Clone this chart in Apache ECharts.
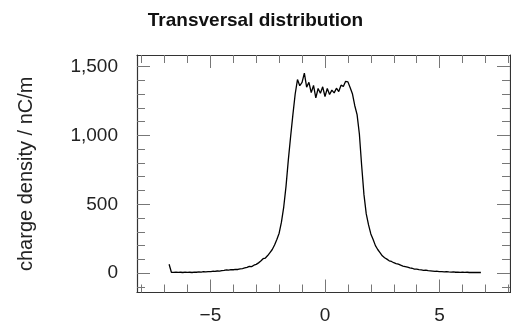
<!DOCTYPE html>
<html>
<head>
<meta charset="utf-8">
<script src="https://cdn.jsdelivr.net/npm/echarts@6/dist/echarts.min.js"></script>
<style>html,body{margin:0;padding:0;background:#fff}#c{width:511px;height:328px}</style>
</head>
<body>
<div id="c"></div>
<script>
var title = 'Transversal distribution';
var yName = 'charge density / nC/m';
var xs = [-6.8,-6.7,-6.6,-6.5,-6.4,-6.3,-6.2,-6.1,-6.0,-5.9,-5.8,-5.7,-5.6,-5.5,-5.4,-5.3,-5.2,-5.1,-5.0,-4.9,-4.8,-4.7,-4.6,-4.5,-4.4,-4.3,-4.2,-4.1,-4.0,-3.9,-3.8,-3.7,-3.6,-3.5,-3.4,-3.3,-3.2,-3.1,-3.0,-2.9,-2.8,-2.7,-2.6,-2.5,-2.4,-2.3,-2.2,-2.1,-2.0,-1.9,-1.8,-1.7,-1.6,-1.5,-1.4,-1.3,-1.2,-1.1,-1.0,-0.9,-0.8,-0.7,-0.6,-0.5,-0.4,-0.3,-0.2,-0.1,0.0,0.1,0.2,0.3,0.4,0.5,0.6,0.7,0.8,0.9,1.0,1.1,1.2,1.3,1.4,1.5,1.6,1.7,1.8,1.9,2.0,2.1,2.2,2.3,2.4,2.5,2.6,2.7,2.8,2.9,3.0,3.1,3.2,3.3,3.4,3.5,3.6,3.7,3.8,3.9,4.0,4.1,4.2,4.3,4.4,4.5,4.6,4.7,4.8,4.9,5.0,5.1,5.2,5.3,5.4,5.5,5.6,5.7,5.8,5.9,6.0,6.1,6.2,6.3,6.4,6.5,6.6,6.7,6.8];
var ys = [65,7,6,8,6,7,5,8,6,7,5,8,7,9,8,11,10,12,11,14,13,16,15,19,20,24,22,26,25,28,27,31,34,38,42,50,48,58,64,75,88,105,110,128,150,172,205,245,290,370,480,630,820,990,1150,1300,1405,1360,1385,1452,1350,1385,1310,1362,1272,1340,1305,1352,1282,1340,1296,1328,1308,1342,1318,1364,1355,1392,1388,1345,1300,1215,1150,1010,780,570,430,350,285,245,200,172,150,126,112,102,90,85,76,70,66,58,52,48,44,38,36,30,29,26,24,21,22,18,17,15,13,14,12,11,10,11,9,8,9,7,8,6,7,6,7,5,6,5,6,5,5];
var xMajor = [-5, 0, 5];
var xMinor = [-8,-7,-6,-5,-4,-3,-2,-1,0,1,2,3,4,5,6,7,8];
var yMajor = [0, 500, 1000, 1500];
var yMinor = [-100,0,100,200,300,400,500,600,700,800,900,1000,1100,1200,1300,1400,1500];

var data = xs.map(function(x, i){ return [x, ys[i]]; });
var XMIN = -8.2, XMAX = 8.07, YMIN = -140, YMAX = 1583;
var tickColor = '#777';
var frameColor = '#333';
var labelStyle = {fontFamily: 'Liberation Sans', fontSize: 19, color: '#222'};

function xAx(pos, vals, len, labels, line) {
  return {
    type: 'value', position: pos, min: XMIN, max: XMAX,
    axisLine: {show: !!line, onZero: false, lineStyle: {color: frameColor, width: 1.2}},
    splitLine: {show: false},
    axisTick: {show: true, inside: true, length: len, customValues: vals, lineStyle: {color: tickColor, width: 1}},
    axisLabel: labels ? Object.assign({show: true, margin: 14, customValues: vals,
      formatter: function(v){ return String(v).replace('-', '\u2212'); }}, labelStyle) : {show: false}
  };
}
function yAx(pos, vals, len, labels, line) {
  return {
    type: 'value', position: pos, min: YMIN, max: YMAX,
    axisLine: {show: !!line, onZero: false, lineStyle: {color: frameColor, width: 1.2}},
    splitLine: {show: false},
    axisTick: {show: true, inside: true, length: len, customValues: vals, lineStyle: {color: tickColor, width: 1}},
    axisLabel: labels ? Object.assign({show: true, margin: 19, customValues: vals,
      formatter: function(v){ return String(v).replace(/\B(?=(\d{3})+(?!\d))/g, ','); }}, labelStyle) : {show: false}
  };
}

var yMain = yAx('left', yMajor, 13, true, true);
yMain.name = yName;
yMain.nameLocation = 'middle';
yMain.nameGap = 101;
yMain.nameTextStyle = {fontFamily: 'Liberation Sans', fontSize: 20, color: '#222'};

var chart = echarts.init(document.getElementById('c'), null, {renderer: 'canvas'});
chart.setOption({
  animation: false,
  backgroundColor: '#fff',
  title: {text: title, left: 'center', top: 6,
    textStyle: {fontFamily: 'Liberation Sans', fontWeight: 'bold', fontSize: 19, color: '#111'}},
  grid: {left: 137, top: 55, width: 373, height: 237.5},
  xAxis: [xAx('bottom', xMajor, 13, true, true), xAx('bottom', xMinor, 8, false), xAx('top', xMajor, 13, false, true), xAx('top', xMinor, 8, false)],
  yAxis: [yMain, yAx('left', yMinor, 8, false), yAx('right', yMajor, 13, false, true), yAx('right', yMinor, 8, false)],
  series: [{type: 'line', data: data, xAxisIndex: 0, yAxisIndex: 0, showSymbol: false, symbol: 'none',
    lineStyle: {color: '#000', width: 1.3}}]
});
</script>
</body>
</html>
